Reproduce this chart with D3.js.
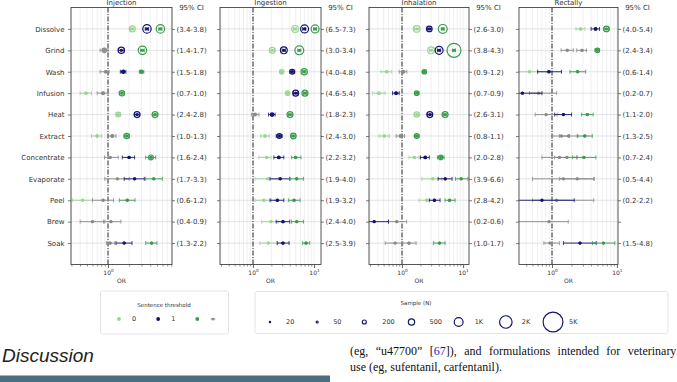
<!DOCTYPE html>
<html><head><meta charset="utf-8">
<script src="https://cdn.jsdelivr.net/npm/d3@7"></script>
<style>body{margin:0;background:#fff}svg{display:block}</style>
</head><body><svg id="c" width="677" height="382"></svg>
<script>
const rows = ["Dissolve","Grind","Wash","Infusion","Heat","Extract","Concentrate","Evaporate","Peel","Brew","Soak"];
const panelNames = ["Injection","Ingestion","Inhalation","Rectally"];
const thresholdLabels = ["0","1","\u221e"];
const sampleSizes = [20,50,200,500,1000,2000,5000];
const sampleLabels = ["20","50","200","500","1K","2K","5K"];

// each point: [OR, CI low, CI high, sample N, greyed(1)]
const injT0 = [[2.22,2.1,2.35,450,0],[0.886,0.77,1.0,250,1],[0.93,0.77,1.04,80,1],[0.485,0.40,0.58,60,0],[1.4,1.3,1.5,300,0],[0.70,0.58,0.81,60,0],[1.07,0.89,1.4,60,1],[1.36,0.9,2.0,30,1],[0.435,0.31,0.6,30,0],[1.1,0.86,1.53,30,1],[1.07,0.95,1.25,60,1]];
const injT1 = [[3.6,3.4,3.8,900,0],[1.55,1.4,1.7,500,0],[1.65,1.5,1.8,150,0],[0.85,0.7,1.0,100,1],[2.6,2.4,2.8,450,0],[1.15,1.0,1.3,100,1],[2.0,1.6,2.4,60,0],[2.4,1.7,3.3,40,0],[0.85,0.6,1.2,40,1],[0.6,0.4,0.9,30,1],[1.7,1.3,2.2,40,0]];
const injT2 = [[5.6,5.3,5.9,900,0],[3.1,2.9,3.3,900,0],[3.0,2.8,3.25,150,0],[1.58,1.45,1.72,350,0],[4.7,4.4,5.0,450,0],[1.85,1.7,2.0,350,0],[4.1,3.45,4.8,300,0],[4.5,3.45,5.96,40,0],[1.88,1.45,2.43,40,0],null,[4.2,3.45,5.0,50,0]];

const ingT0 = [[4.9,4.6,5.2,600,0],[2.07,1.9,2.25,450,0],[2.95,2.75,3.15,250,0],[3.7,3.45,3.95,250,0],[1.08,0.95,1.25,100,1],[1.57,1.34,1.85,60,0],[1.68,1.25,1.97,50,0],[1.74,1.08,2.6,30,0],[1.51,1.08,2.0,30,0],[1.97,1.39,2.57,40,0],[1.78,1.3,2.45,40,0]];
const ingT1 = [[7.0,6.5,7.3,800,0],[3.2,3.0,3.4,600,0],[4.4,4.0,4.8,300,0],[5.0,4.6,5.4,450,0],[2.05,1.8,2.3,150,0],[2.7,2.4,3.0,300,0],[2.65,2.2,3.2,80,0],[2.8,1.9,4.0,40,0],[2.5,1.9,3.2,50,0],[3.1,2.4,4.0,50,0],[3.1,2.5,3.9,60,0]];
const ingT2 = [[10.4,9.8,11,800,0],[5.74,5.4,6.1,1000,0],[6.9,6.5,7.3,500,0],[7.1,6.7,7.5,450,0],[4.04,3.8,4.3,450,0],[4.58,4.3,4.9,400,0],[5.0,4.3,6.1,60,0],[5.2,4.04,6.7,40,0],[4.7,3.8,5.9,50,0],[5.2,4.3,6.7,40,0],[7.4,6.5,8.5,60,0]];

const inhT0 = [[1.74,1.6,1.9,550,0],[3.0,2.8,3.2,600,0],[0.56,0.45,0.68,50,0],[0.42,0.33,0.53,50,0],[1.74,1.6,1.9,350,0],[0.51,0.42,0.62,50,0],[1.59,1.3,1.9,50,0],[3.18,2.1,4.5,40,0],[2.54,1.9,3.3,40,0],[0.82,0.6,1.19,30,1],[0.77,0.53,1.03,30,1]];
const inhT1 = [[2.8,2.6,3.0,400,0],[4.05,3.8,4.3,800,0],[1.05,0.9,1.2,100,1],[0.8,0.7,0.9,80,0],[2.85,2.6,3.1,450,0],[0.95,0.8,1.1,100,1],[2.4,2.0,2.8,80,0],[5.1,3.9,6.6,50,0],[3.4,2.8,4.2,50,0],[0.35,0.2,0.6,30,0],[1.3,1.0,1.7,50,1]];
const inhT2 = [[4.65,4.4,4.9,1000,0],[7.1,6.7,7.5,2500,0],[2.32,2.15,2.5,250,0],[1.74,1.6,1.9,250,0],[5.07,4.8,5.4,450,0],[1.74,1.6,1.9,300,0],[4.3,3.8,4.9,250,0],[9.3,7.5,12,40,0],[6.0,5.07,7.4,50,0],null,[4.1,3.27,5.07,50,0]];

const recT0 = [[2.76,2.34,3.22,50,0],[1.72,1.38,2.13,40,1],[0.45,0.2,0.85,20,0],[0.62,0.45,1.18,20,1],[0.81,0.55,1.2,30,1],[1.4,1.02,1.85,30,1],[1.7,1.1,2.45,30,1],[2.45,1.3,4.5,20,1],[1.18,0.5,4.4,20,1],[0.9,0.2,1.78,20,1],[0.93,0.75,1.3,20,1]];
const recT1 = [[4.7,4.0,5.4,80,0],[2.9,2.4,3.4,60,1],[0.9,0.6,1.4,40,0],[0.35,0.2,0.7,30,0],[1.5,1.1,2.0,40,0],[1.8,1.3,2.5,40,1],[1.3,0.7,2.4,30,1],[1.5,0.5,4.4,20,1],[0.7,0.2,2.2,20,0],null,[2.7,1.5,4.8,30,0]];
const recT2 = [[6.9,6.3,7.6,400,0],[5.0,4.6,5.4,250,0],[2.48,1.89,3.3,40,0],null,[3.5,2.86,4.3,40,0],[3.2,2.45,4.17,40,0],[3.1,2.08,4.75,40,0],null,null,null,[6.2,4.2,9.3,30,0]];

const injCI = ["(3.4-3.8)","(1.4-1.7)","(1.5-1.8)","(0.7-1.0)","(2.4-2.8)","(1.0-1.3)","(1.6-2.4)","(1.7-3.3)","(0.6-1.2)","(0.4-0.9)","(1.3-2.2)"];
const ingCI = ["(6.5-7.3)","(3.0-3.4)","(4.0-4.8)","(4.6-5.4)","(1.8-2.3)","(2.4-3.0)","(2.2-3.2)","(1.9-4.0)","(1.9-3.2)","(2.4-4.0)","(2.5-3.9)"];
const inhCI = ["(2.6-3.0)","(3.8-4.3)","(0.9-1.2)","(0.7-0.9)","(2.6-3.1)","(0.8-1.1)","(2.0-2.8)","(3.9-6.6)","(2.8-4.2)","(0.2-0.6)","(1.0-1.7)"];
const recCI = ["(4.0-5.4)","(2.4-3.4)","(0.6-1.4)","(0.2-0.7)","(1.1-2.0)","(1.3-2.5)","(0.7-2.4)","(0.5-4.4)","(0.2-2.2)","","(1.5-4.8)"];

const panelData = [[injT0,injT1,injT2],[ingT0,ingT1,ingT2],[inhT0,inhT1,inhT2],[recT0,recT1,recT2]];
const panelCI = [injCI,ingCI,inhCI,recCI];

(function(){
const svg = d3.select("#c");
const FONT = "DejaVu Sans, sans-serif";
const colors = ["#98d594","#14146e","#3a9a4e"];
const GREY = "#8a8a8a";
const layout = [
  {x0:71,x1:172,dom:[0.296,8.2]},
  {x0:220,x1:321,dom:[0.288,13.0]},
  {x0:369,x1:469,dom:[0.288,12.5]},
  {x0:519,x1:618,dom:[0.31,10.4]}
];
const pTop=7.5, pBot=264.5;
const y = d3.scalePoint().domain(rows).range([pTop,pBot]).padding(1);
const r = d3.scaleSqrt().domain([0,5000]).range([0,9.9]);

const defs = svg.append("defs");

layout.forEach((L,pi)=>{
  const x = d3.scaleLog().domain(L.dom).range([L.x0,L.x1]);
  const g = svg.append("g");
  defs.append("clipPath").attr("id","clip"+pi).append("rect")
    .attr("x",L.x0).attr("y",pTop).attr("width",L.x1-L.x0).attr("height",pBot-pTop);
  const [a,b] = L.dom;
  const minor=[], major=[];
  for(let e=-1;e<=2;e++){for(let m=1;m<10;m++){const v=m*Math.pow(10,e); if(v>=a&&v<=b){ (m===1?major:minor).push(v);} }}
  g.append("g").selectAll("line").data(minor.concat(major)).join("line")
    .attr("x1",d=>x(d)).attr("x2",d=>x(d)).attr("y1",pTop).attr("y2",pBot)
    .attr("stroke","#e6e6e6").attr("stroke-width",0.6);
  g.append("g").selectAll("line").data(rows).join("line")
    .attr("x1",L.x0).attr("x2",L.x1).attr("y1",d=>y(d)).attr("y2",d=>y(d))
    .attr("stroke","#dcdcdc").attr("stroke-width",0.8);
  g.append("line").attr("x1",x(1)).attr("x2",x(1)).attr("y1",pTop).attr("y2",pBot)
    .attr("stroke","#111").attr("stroke-width",0.9).attr("stroke-dasharray","5,1.5,1,1.5");
  const pg = g.append("g").attr("clip-path",`url(#clip${pi})`);
  panelData[pi].forEach((series,ti)=>{
    const pts = series.map((d,i)=>d?{row:rows[i],or:d[0],lo:d[1],hi:d[2],n:d[3],c:d[4]?GREY:colors[ti]}:null).filter(Boolean);
    const s = pg.append("g");
    s.selectAll(".eb").data(pts).join("line")
      .attr("x1",d=>x(d.lo)).attr("x2",d=>x(d.hi)).attr("y1",d=>y(d.row)).attr("y2",d=>y(d.row))
      .attr("stroke",d=>d.c).attr("stroke-width",0.9);
    s.selectAll(".cl").data(pts).join("line")
      .attr("x1",d=>x(d.lo)).attr("x2",d=>x(d.lo)).attr("y1",d=>y(d.row)-2).attr("y2",d=>y(d.row)+2)
      .attr("stroke",d=>d.c).attr("stroke-width",0.8);
    s.selectAll(".ch").data(pts).join("line")
      .attr("x1",d=>x(d.hi)).attr("x2",d=>x(d.hi)).attr("y1",d=>y(d.row)-2).attr("y2",d=>y(d.row)+2)
      .attr("stroke",d=>d.c).attr("stroke-width",0.8);
    s.selectAll(".dot").data(pts).join("circle")
      .attr("cx",d=>x(d.or)).attr("cy",d=>y(d.row)).attr("r",1.7).attr("fill",d=>d.c);
    s.selectAll(".ring").data(pts).join("circle")
      .attr("cx",d=>x(d.or)).attr("cy",d=>y(d.row)).attr("r",d=>r(d.n))
      .attr("fill","none").attr("stroke",d=>d.c).attr("stroke-width",1.2);
  });
  g.append("rect").attr("x",L.x0).attr("y",pTop).attr("width",L.x1-L.x0).attr("height",pBot-pTop)
    .attr("fill","none").attr("stroke","#444").attr("stroke-width",0.9);
  const ax = g.append("g").attr("transform",`translate(0,${pBot})`);
  ax.append("g").call(d3.axisBottom(x).tickValues(minor).tickSize(2).tickFormat(""))
    .call(s=>s.select(".domain").remove()).selectAll("line").attr("stroke","#444").attr("stroke-width",0.6);
  const mj = ax.append("g").call(d3.axisBottom(x).tickValues(major).tickSize(3.5).tickFormat(""));
  mj.select(".domain").remove();
  mj.selectAll("line").attr("stroke","#444").attr("stroke-width",0.8);
  mj.selectAll(".tick").append("text").attr("y",10).attr("fill","#333")
    .attr("font-family",FONT).attr("font-size",6).attr("text-anchor","middle")
    .text("10").append("tspan").attr("dy",-2.5).attr("font-size",4.3)
    .text(d=>Math.round(Math.log10(d)));
  g.append("text").attr("x",(L.x0+L.x1)/2).attr("y",282.5).attr("text-anchor","middle")
    .attr("font-family",FONT).attr("font-size",6).attr("fill","#333").text("OR");
  const la = g.append("g").attr("transform",`translate(${L.x0},0)`)
    .call(d3.axisLeft(y).tickSize(3).tickFormat(pi===0?(d=>d):""));
  la.select(".domain").remove();
  la.selectAll("line").attr("stroke","#444").attr("stroke-width",0.7);
  la.selectAll("text").attr("font-family",FONT).attr("font-size",7).attr("fill","#333").attr("dx",-0.5);
  const ci = panelCI[pi];
  const ra = g.append("g").attr("transform",`translate(${L.x1},0)`)
    .call(d3.axisRight(y).tickSize(3).tickFormat((d,i)=>ci[i]));
  ra.select(".domain").remove();
  ra.selectAll("line").attr("stroke","#444").attr("stroke-width",0.7);
  ra.selectAll("text").attr("font-family",FONT).attr("font-size",7).attr("fill","#333").attr("dx",-1.5);
  g.append("text").attr("x",L.x1+19.5).attr("y",9.5).attr("text-anchor","middle")
    .attr("font-family",FONT).attr("font-size",7).attr("fill","#333").text("95% CI");
  g.append("text").attr("x",(L.x0+L.x1)/2).attr("y",4.5).attr("text-anchor","middle")
    .attr("font-family",FONT).attr("font-size",7).attr("fill","#333").text(panelNames[pi]);
});

const l1 = svg.append("g");
l1.append("rect").attr("x",100.5).attr("y",291).attr("width",128).attr("height",43).attr("rx",2)
  .attr("fill","#fff").attr("stroke","#dedede").attr("stroke-width",0.8);
l1.append("text").attr("x",164).attr("y",307).attr("text-anchor","middle").attr("font-family",FONT)
  .attr("font-size",5.5).attr("fill","#333").text("Sentence threshold");
const lx = d3.scalePoint().domain(thresholdLabels).range([119,197.3]);
l1.selectAll("circle").data(thresholdLabels).join("circle").attr("cx",d=>lx(d)).attr("cy",319)
  .attr("r",1.9).attr("fill",(d,i)=>colors[i]);
l1.selectAll(".t").data(thresholdLabels).join("text").attr("x",d=>lx(d)+13).attr("y",321.3)
  .attr("font-family",FONT).attr("font-size",6.5).attr("fill","#333").text(d=>d);

const l2 = svg.append("g");
l2.append("rect").attr("x",255).attr("y",291.5).attr("width",413).attr("height",42).attr("rx",2)
  .attr("fill","#fff").attr("stroke","#dedede").attr("stroke-width",0.8);
l2.append("text").attr("x",416).attr("y",305).attr("text-anchor","middle").attr("font-family",FONT)
  .attr("font-size",5.5).attr("fill","#333").text("Sample (N)");
const sx = d3.scalePoint().domain(sampleLabels).range([270,553]);
l2.selectAll("circle").data(sampleSizes).join("circle").attr("cx",(d,i)=>sx(sampleLabels[i])).attr("cy",322)
  .attr("r",d=>Math.max(r(d),0.6)).attr("fill","none").attr("stroke",colors[1]).attr("stroke-width",1.2);
l2.selectAll(".t").data(sampleLabels).join("text").attr("x",(d,i)=>sx(d)+(i<2?16:i<4?18:16)).attr("y",324.3)
  .attr("font-family",FONT).attr("font-size",6.5).attr("fill","#333").text(d=>d);

svg.append("text").attr("x",2).attr("y",362).attr("font-family","Liberation Sans, Arial, sans-serif")
  .attr("font-style","italic").attr("font-size",19).attr("fill","#222").text("Discussion");
svg.append("rect").attr("x",0).attr("y",375.5).attr("width",330).attr("height",6.5).attr("fill","#4b6f7f");
const serif = "Liberation Serif, Times New Roman, serif";
const ft = svg.append("text").attr("x",350).attr("y",355).attr("font-family",serif)
  .attr("font-size",12).attr("word-spacing",4.4).attr("fill","#111");
ft.append("tspan").text("(eg, \u201cu47700\u201d [");
ft.append("tspan").attr("fill","#2222cc").text("67");
ft.append("tspan").text("]), and formulations intended for veterinary");
svg.append("text").attr("x",350).attr("y",370.5).attr("font-family",serif)
  .attr("font-size",12).attr("fill","#111").text("use (eg, sufentanil, carfentanil).");
})();
</script></body></html>
